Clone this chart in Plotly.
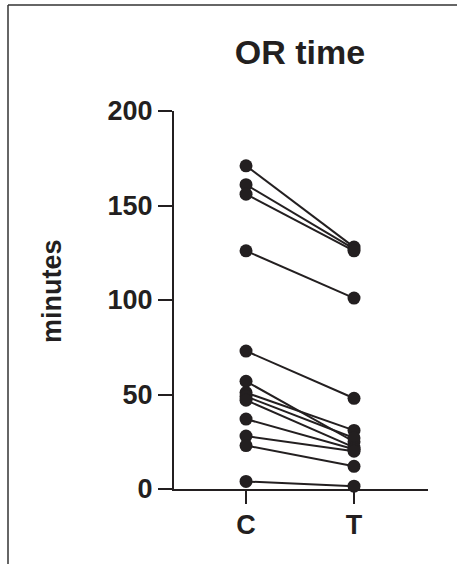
import plotly.graph_objects as go

groups = ["C", "T"]
control = [171, 161, 156, 126, 73, 57, 51, 49, 47, 37, 28, 23, 4]
treated = [128, 127, 126, 101, 48, 25, 31, 27, 22, 21, 20, 12, 1.5]
y_ticks = [0, 50, 100, 150, 200]

FONT = "Arial, Liberation Sans, Helvetica, sans-serif"
INK = "#231f20"

fig = go.Figure()
for c, t in zip(control, treated):
    fig.add_trace(go.Scatter(
        x=groups, y=[c, t], mode="lines+markers",
        line=dict(color=INK, width=2),
        marker=dict(color=INK, size=13),
        showlegend=False, hoverinfo="skip", cliponaxis=False,
    ))

L, R, T, B = 174, 29, 111, 75
W, H = 457, 564
pw, ph = W - L - R, H - T - B

def px(x):
    return (x - L) / pw

def py(y):
    return (H - B - y) / ph

fig.update_layout(
    width=W, height=H,
    margin=dict(l=L, r=R, t=T, b=B, autoexpand=False),
    paper_bgcolor="white", plot_bgcolor="white",
    font=dict(family=FONT, color=INK),
    title=dict(text="<b>OR time</b>", x=300 / W, xanchor="center",
               y=1 - 52 / H, yanchor="middle", yref="container",
               font=dict(size=34, family=FONT, color=INK)),
    xaxis=dict(
        type="category", range=[-0.667, 1.685],
        showline=True, linecolor=INK, linewidth=2,
        ticks="outside", ticklen=13, tickwidth=2, tickcolor=INK,
        showgrid=False, zeroline=False,
        tickfont=dict(size=27, family=FONT, color=INK),
        tickprefix="<b>", ticksuffix="</b>",
        ticklabelstandoff=-2,
    ),
    yaxis=dict(
        range=[0, 200], tickvals=y_ticks,
        ticktext=[f"<b>{v}</b>" for v in y_ticks],
        showline=True, linecolor=INK, linewidth=2,
        ticks="outside", ticklen=14, tickwidth=2, tickcolor=INK,
        showgrid=False, zeroline=False,
        tickfont=dict(size=27, family=FONT, color=INK),
    ),
    annotations=[dict(
        text="<b>minutes</b>", textangle=-90,
        xref="paper", yref="paper", x=px(52), y=py(291),
        xanchor="center", yanchor="middle", showarrow=False,
        font=dict(size=27, family=FONT, color=INK),
    )],
    shapes=[
        dict(type="line", xref="paper", yref="paper",
             x0=px(8), y0=py(5), x1=px(470), y1=py(5),
             line=dict(color="#333333", width=1.5)),
        dict(type="line", xref="paper", yref="paper",
             x0=px(8), y0=py(5), x1=px(8), y1=py(580),
             line=dict(color="#333333", width=1.5)),
    ],
)

fig.write_html(
    "out.html",
    config={"displayModeBar": False},
    post_script="document.body.style.margin='0';document.body.style.overflow='hidden';",
)
